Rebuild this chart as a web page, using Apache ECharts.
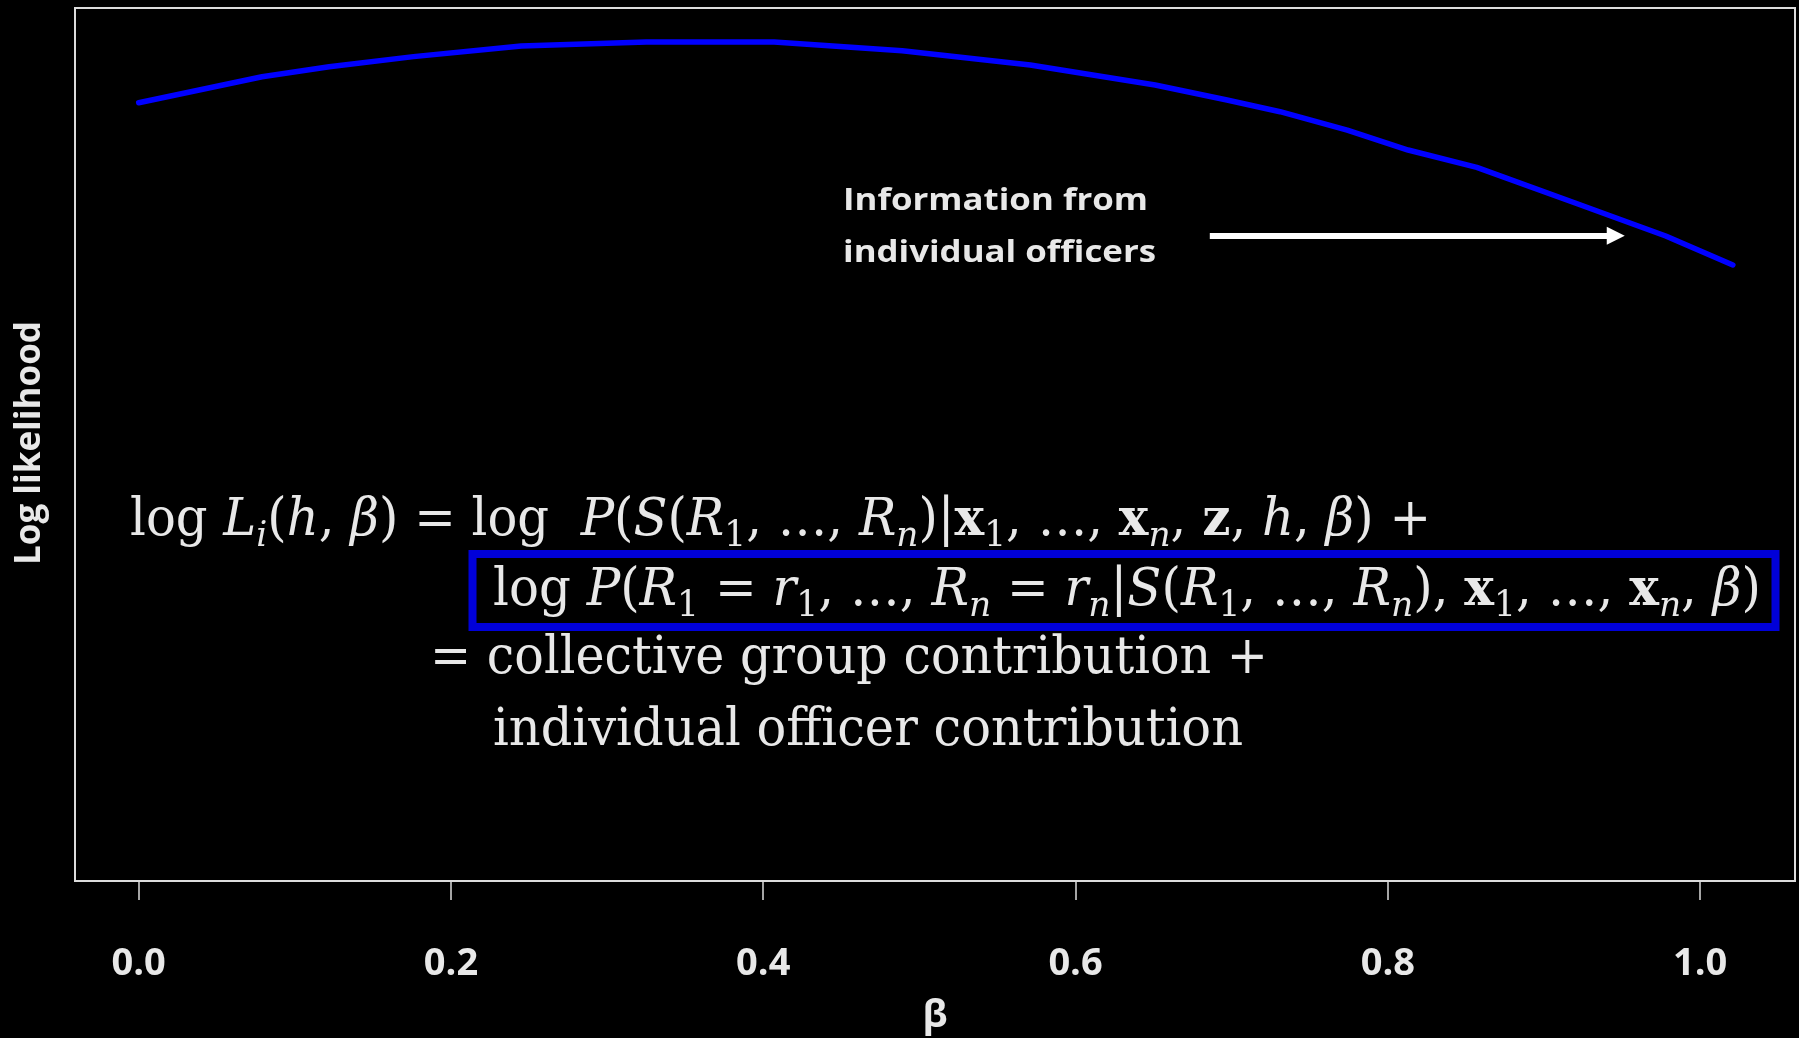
<!DOCTYPE html>
<html><head><meta charset="utf-8">
<script src="https://cdn.jsdelivr.net/npm/echarts@6/dist/echarts.min.js"></script>
<style>html,body{margin:0;padding:0;background:#000;}#c{width:1799px;height:1038px;}</style>
</head><body><div id="c"></div>
<script>
// ---- data ----
const betaValues    = [0, 0.079, 0.122, 0.176, 0.245, 0.325, 0.407, 0.489, 0.571, 0.651, 0.697, 0.731, 0.774, 0.813, 0.857, 0.920, 0.978, 1.021];
const logLikValues  = [89.15, 92.13, 93.28, 94.43, 95.65, 96.11, 96.11, 95.11, 93.47, 91.18, 89.46, 88.12, 86.02, 83.73, 81.75, 77.66, 73.88, 70.56];
const xTickValues   = [0, 0.2, 0.4, 0.6, 0.8, 1.0];
const xTickLabels   = ['0.0', '0.2', '0.4', '0.6', '0.8', '1.0'];
const xAxisName     = 'β';
const yAxisName     = 'Log likelihood';
const noteLines     = ['Information from', 'individual officers'];
const formulaLines  = [
  'log {i|L}{si|i}({i|h}, {i|β}) = log  {i|P}({i|S}({i|R}{s|1}, …, {i|R}{si|n})|{b|x}{s|1}, …, {b|x}{si|n}, {b|z}, {i|h}, {i|β}) +',
  'log {i|P}({i|R}{s|1} = {i|r}{s|1}, …, {i|R}{si|n} = {i|r}{si|n}|{i|S}({i|R}{s|1}, …, {i|R}{si|n}), {b|x}{s|1}, …, {b|x}{si|n}, {i|β})',
  '= collective group contribution +',
  'individual officer contribution'
];

const seriesData = betaValues.map((b, k) => [b, logLikValues[k]]);
const txt = '#e8e8e8';
const F = 'DejaVu Serif';
const FS = 52, SFS = 36;
const rich = {
  i:  {fontFamily: F, fontSize: FS, fontStyle: 'italic', color: txt},
  b:  {fontFamily: F, fontSize: FS, fontWeight: 'bold', color: txt},
  s:  {fontFamily: F, fontSize: SFS, color: txt, padding: [32, 0, 0, 0]},
  si: {fontFamily: F, fontSize: SFS, fontStyle: 'italic', color: txt, padding: [32, 0, 0, 0]}
};

// width measuring, to fit each text line to the width it has in the picture
const mctx = document.createElement('canvas').getContext('2d');
function fontOf(st, family, size) {
  st = st || {};
  return (st.fontStyle || 'normal') + ' ' + (st.fontWeight || 'normal') + ' ' + (st.fontSize || size) + 'px "' + (st.fontFamily || family) + '"';
}
function measureRich(s, family, size, weight) {
  const re = /\{([a-zA-Z0-9_]+)\|([^}]*)\}/g;
  let w = 0, last = 0, m;
  const base = {fontWeight: weight};
  const plain = t => { mctx.font = fontOf(base, family, size); w += mctx.measureText(t).width; };
  while ((m = re.exec(s))) {
    if (m.index > last) plain(s.slice(last, m.index));
    mctx.font = fontOf(rich[m[1]], family, size);
    w += mctx.measureText(m[2]).width;
    last = re.lastIndex;
  }
  if (last < s.length) plain(s.slice(last));
  return w;
}
function formulaText(idx, x, y, targetW) {
  const w = measureRich(formulaLines[idx], F, FS);
  return {
    type: 'text', x: x, y: y, z: 10, scaleX: targetW / w,
    style: {
      text: formulaLines[idx], rich: rich,
      fontFamily: F, fontSize: FS, fill: txt,
      textAlign: 'left', verticalAlign: 'middle'
    }
  };
}
function noteText(idx, x, y, targetW) {
  const w = measureRich(noteLines[idx], 'Open Sans', 30, 'bold');
  return {
    type: 'text', x: x, y: y, scaleX: targetW / w,
    style: {text: noteLines[idx], fill: txt, fontFamily: 'Open Sans', fontWeight: 'bold', fontSize: 30, textAlign: 'left', verticalAlign: 'middle'}
  };
}

const chart = echarts.init(document.getElementById('c'), null, {renderer: 'canvas'});
chart.setOption({
  backgroundColor: '#000',
  animation: false,
  grid: {left: 75, right: 4, top: 8, bottom: 157, outerBoundsMode: 'none', containLabel: false,
         show: true, borderColor: '#dcdcdc', borderWidth: 2, backgroundColor: 'transparent'},
  xAxis: {
    type: 'value', min: -0.0408, max: 1.0608,
    name: xAxisName, nameLocation: 'middle', nameGap: 116,
    nameTextStyle: {color: txt, fontFamily: 'Open Sans', fontWeight: 'bold', fontSize: 38},
    axisLine: {show: true, lineStyle: {color: '#dcdcdc', width: 2}},
    axisTick: {show: true, length: 19, customValues: xTickValues, lineStyle: {color: '#dcdcdc', width: 1.5}},
    axisLabel: {
      show: true, margin: 64, customValues: xTickValues,
      color: txt, fontFamily: 'Open Sans', fontWeight: 'bold', fontSize: 38,
      formatter: v => xTickLabels[xTickValues.findIndex(t => Math.abs(t - v) < 1e-9)] ?? v.toFixed(1)
    },
    splitLine: {show: false}
  },
  yAxis: {
    type: 'value', min: 0, max: 100, show: false, splitLine: {show: false}
  },
  series: [{
    type: 'line', data: seriesData, showSymbol: false, smooth: false,
    lineStyle: {color: '#0000ff', width: 5.5, cap: 'round', join: 'round'},
    z: 3,
    markLine: {
      silent: true, symbol: ['none', 'triangle'], symbolSize: [18, 18],
      label: {show: false},
      lineStyle: {color: '#ffffff', width: 6, type: 'solid'},
      data: [[{coord: [0.686, 73.9]}, {coord: [0.946, 73.9]}]]
    }
  }],
  graphic: [
    {type: 'text', x: 30, y: 443, rotation: Math.PI / 2,
     style: {text: yAxisName, fill: txt, fontFamily: 'Open Sans', fontWeight: 'bold', fontSize: 35, textAlign: 'center', verticalAlign: 'middle'}},
    noteText(0, 843, 201, 305),
    noteText(1, 843, 253, 313),
    formulaText(0, 130, 521, 1301),
    formulaText(1, 493, 591, 1268),
    formulaText(2, 430, 659, 838),
    formulaText(3, 493, 731, 750),
    {type: 'rect', z: 9, shape: {x: 472.5, y: 554, width: 1303, height: 73},
     style: {fill: 'none', stroke: '#0000d8', lineWidth: 8}}
  ]
});
</script></body></html>
